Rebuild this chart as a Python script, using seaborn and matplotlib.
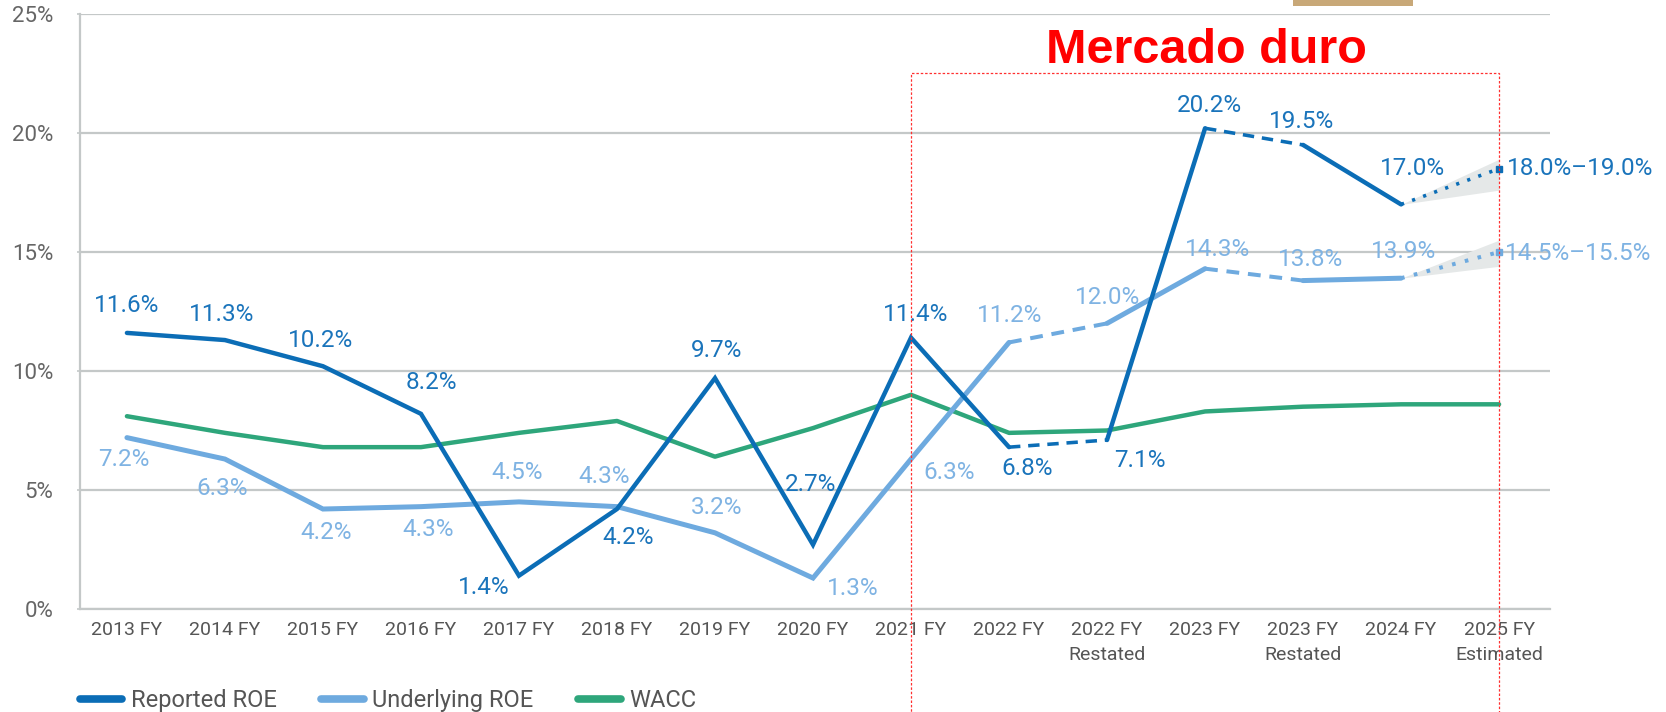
import numpy as np
import pandas as pd
import seaborn as sns
import matplotlib.pyplot as plt
from matplotlib.lines import Line2D
from matplotlib.patches import Rectangle

# data
categories = ["2013 FY", "2014 FY", "2015 FY", "2016 FY", "2017 FY", "2018 FY",
              "2019 FY", "2020 FY", "2021 FY", "2022 FY", "2022 FY\nRestated",
              "2023 FY", "2023 FY\nRestated", "2024 FY", "2025 FY\nEstimated"]
reported = [11.6, 11.3, 10.2, 8.2, 1.4, 4.2, 9.7, 2.7, 11.4, 6.8, 7.1, 20.2, 19.5, 17.0, 18.5]
underlying = [7.2, 6.3, 4.2, 4.3, 4.5, 4.3, 3.2, 1.3, 6.3, 11.2, 12.0, 14.3, 13.8, 13.9, 15.0]
wacc = [8.1, 7.4, 6.8, 6.8, 7.4, 7.9, 6.4, 7.6, 9.0, 7.4, 7.5, 8.3, 8.5, 8.6, 8.6]
reported_labels = ["11.6%", "11.3%", "10.2%", "8.2%", "1.4%", "4.2%", "9.7%", "2.7%",
                   "11.4%", "6.8%", "7.1%", "20.2%", "19.5%", "17.0%", "18.0%–19.0%"]
underlying_labels = ["7.2%", "6.3%", "4.2%", "4.3%", "4.5%", "4.3%", "3.2%", "1.3%",
                     "6.3%", "11.2%", "12.0%", "14.3%", "13.8%", "13.9%", "14.5%–15.5%"]
# estimate fan between 2024 FY and 2025 FY
reported_band_lo = [17.0, 17.6]
reported_band_hi = [17.0, 18.9]
underlying_band_lo = [13.9, 14.4]
underlying_band_hi = [13.9, 15.5]
yticks = [0, 5, 10, 15, 20, 25]

df = pd.DataFrame({"pos": np.arange(len(categories)), "cat": categories,
                   "reported": reported, "underlying": underlying, "wacc": wacc})

# label offsets in pixels (dx, dy), dy up
rep_off = [(0, 27), (-3, 26), (-2, 26), (10, 31), (-35, -12), (11, -28), (2, 28), (-2, 60),
           (5, 23), (18, -21), (33, -20), (4, 23), (-1, 23), (11, 36), (8, 0)]
und_off = [(-3, -22), (-3, -29), (3, -23), (7, -23), (-2, 29), (-13, 30), (2, 25), (40, -10),
           (38, -13), (1, 27), (1, 26), (13, 19), (8, 21), (2, 27), (6, -1)]

C_REP = "#0b6db6"
C_UND = "#6eaadf"
C_WACC = "#2ea67b"
C_REP_TXT = "#1a74bb"
C_UND_TXT = "#7fb3e3"
GRID = "#c4c8c8"

sns.set_theme(style="white")
plt.rcParams['font.family'] = ['Roboto', 'DejaVu Sans']

fig = plt.figure(figsize=(16.66, 7.12), dpi=100)
ax = fig.add_axes([0.0483, 0.1447, 0.8821, 0.8356])

solid_runs = [(0, 9), (10, 11), (12, 13)]
dashed_runs = [(9, 10), (11, 12)]
dotted_runs = [(13, 14)]


def draw_series(col, color, lw, z):
    for a, b in solid_runs:
        sub = df.iloc[a:b + 1]
        sns.lineplot(x=sub["pos"], y=sub[col], ax=ax, color=color, linewidth=lw,
                     zorder=z, solid_joinstyle="miter")
    for a, b in dashed_runs:
        sub = df.iloc[a:b + 1]
        sns.lineplot(x=sub["pos"], y=sub[col], ax=ax, color=color, linewidth=lw * 0.8,
                     zorder=z)
        ax.lines[-1].set_dashes((3.2, 2.2))
    for a, b in dotted_runs:
        sub = df.iloc[a:b + 1]
        sns.lineplot(x=sub["pos"], y=sub[col], ax=ax, color=color, linewidth=lw * 0.8,
                     zorder=z)
        ax.lines[-1].set_dashes((0.9, 2.4))
    ax.plot(df["pos"].iloc[-1], df[col].iloc[-1], marker="s", ms=4.5, color=color,
            zorder=z, lw=0)


# fans
ax.fill_between([13, 14], reported_band_lo, reported_band_hi, color="#e5e8e8", lw=0, zorder=1)
ax.fill_between([13, 14], underlying_band_lo, underlying_band_hi, color="#e5e8e8", lw=0, zorder=1)

sns.lineplot(data=df, x="pos", y="wacc", ax=ax, color=C_WACC, linewidth=3.2, zorder=2)
draw_series("underlying", C_UND, 3.6, 3)
draw_series("reported", C_REP, 3.2, 4)

for i in range(len(categories)):
    ha = "left" if i == len(categories) - 1 else "center"
    ax.annotate(reported_labels[i], xy=(i, reported[i]), xytext=rep_off[i],
                textcoords="offset pixels", ha=ha, va="center", fontsize=17.5,
                color=C_REP_TXT, zorder=6)
    ax.annotate(underlying_labels[i], xy=(i, underlying[i]), xytext=und_off[i],
                textcoords="offset pixels", ha=ha, va="center", fontsize=17.5,
                color=C_UND_TXT, zorder=6)

# axes styling
ax.set_xlim(-0.474, 14.52)
ax.set_ylim(0, 25)
ax.set_yticks(yticks)
ax.set_yticklabels([f"{v}%" for v in yticks])
ax.set_xticks(df["pos"])
ax.set_xticklabels(categories, linespacing=1.45)
ax.set_xlabel("")
ax.set_ylabel("")
ax.yaxis.grid(True, color=GRID, lw=1.6)
ax.xaxis.grid(False)
ax.set_axisbelow(True)
for s in ["top", "right"]:
    ax.spines[s].set_visible(False)
ax.spines["left"].set_color(GRID)
ax.spines["left"].set_linewidth(1.6)
ax.spines["bottom"].set_color(GRID)
ax.spines["bottom"].set_linewidth(1.6)
ax.tick_params(axis="y", length=2.5, width=1.2, color=GRID, pad=17, labelsize=16,
               labelcolor="#666666", left=True)
ax.tick_params(axis="x", length=0, pad=9, labelsize=14, labelcolor="#555555")

# "hard market" box
box = Rectangle((8, -10), 6, 32.53, fill=False, edgecolor="#ff3030", lw=0.9,
                linestyle=(0, (2, 1.5)), clip_on=False, zorder=7)
ax.add_patch(box)
fig.text(0.724, 0.9115, "Mercado duro", ha="center", va="baseline", fontsize=35,
         fontweight="bold", color="#ff0000", family="Liberation Sans")

# small tan bar at the top edge
fig.add_artist(Rectangle((0.776, 0.9916), 0.072, 0.0084, transform=fig.transFigure,
                         color="#c8a878", lw=0))

handles = [Line2D([0], [0], color=C_REP, lw=5.5),
           Line2D([0], [0], color=C_UND, lw=5.5),
           Line2D([0], [0], color=C_WACC, lw=5.5)]
fig.legend(handles, ["Reported ROE", "Underlying ROE", "WACC"], loc="center left",
           bbox_to_anchor=(0.048, 0.016), ncol=3, frameon=False, fontsize=17,
           handlelength=1.8, handletextpad=0.35, columnspacing=1.9, borderpad=0,
           borderaxespad=0, labelcolor="#555555")

plt.savefig("out.png", dpi=100)
plt.close()
